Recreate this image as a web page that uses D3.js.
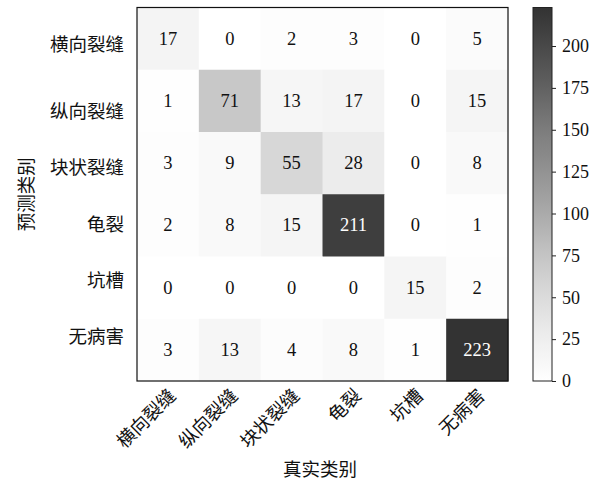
<!DOCTYPE html>
<html>
<head>
<meta charset="utf-8">
<script src="https://cdn.jsdelivr.net/npm/d3@7"></script>
<style>
  html, body { margin: 0; padding: 0; background: #fff; }
  svg { display: block; }
  .cjk { font-family: "Noto Sans CJK SC", sans-serif; }
  .num { font-family: "Liberation Serif", "DejaVu Serif", serif; }
</style>
</head>
<body>
<svg id="chart" width="605" height="480"></svg>
<script>
// Classes (true along x, predicted along y)
const classes = ["横向裂缝", "纵向裂缝", "块状裂缝", "龟裂", "坑槽", "无病害"];
// Confusion matrix rows = predicted class, columns = true class
const row0 = [17, 0, 2, 3, 0, 5];
const row1 = [1, 71, 13, 17, 0, 15];
const row2 = [3, 9, 55, 28, 0, 8];
const row3 = [2, 8, 15, 211, 0, 1];
const row4 = [0, 0, 0, 0, 15, 2];
const row5 = [3, 13, 4, 8, 1, 223];
const matrix = [row0, row1, row2, row3, row4, row5];
const colorbarTicks = [0, 25, 50, 75, 100, 125, 150, 175, 200];
const xTitle = "真实类别";
const yTitle = "预测类别";

const svg = d3.select("#chart");
const plot = { left: 137, top: 7.5, right: 508, bottom: 381 };

const vmax = d3.max(matrix.flat());
// Greys ramp, slightly lifted toward white at the dark end
const color = v => d3.interpolateRgb("#ffffff", d3.interpolateGreys(Math.pow(v / vmax, 0.85)))(0.8);

const x = d3.scaleBand().domain(d3.range(classes.length)).range([plot.left, plot.right]);
const y = d3.scaleBand().domain(d3.range(classes.length)).range([plot.top, plot.bottom]);
// Row labels follow their own spacing (first one sits higher)
const yLab = d3.scaleLinear().domain([0, 1, classes.length - 1]).range([43, 110, 335]);

const cells = [];
matrix.forEach((r, i) => r.forEach((v, j) => cells.push({ i, j, v })));

svg.append("g").selectAll("rect").data(cells).join("rect")
  .attr("x", d => x(d.j))
  .attr("y", d => y(d.i))
  .attr("width", x.bandwidth() + 0.5)
  .attr("height", y.bandwidth() + 0.5)
  .attr("fill", d => color(d.v));

svg.append("g").selectAll("text").data(cells).join("text")
  .attr("class", "num")
  .attr("x", d => x(d.j) + x.bandwidth() / 2)
  .attr("y", d => y(d.i) + y.bandwidth() / 2)
  .attr("text-anchor", "middle")
  .attr("dominant-baseline", "central")
  .attr("font-size", 18.5)
  .attr("fill", d => d.v > vmax / 2 ? "#ffffff" : "#111")
  .text(d => d.v);

// frame
svg.append("rect")
  .attr("x", plot.left).attr("y", plot.top)
  .attr("width", plot.right - plot.left).attr("height", plot.bottom - plot.top)
  .attr("fill", "none").attr("stroke", "#111").attr("stroke-width", 1.2);

// row labels
svg.append("g").selectAll("text").data(classes).join("text")
  .attr("class", "cjk")
  .attr("x", 124)
  .attr("y", (d, i) => yLab(i))
  .attr("text-anchor", "end")
  .attr("dominant-baseline", "central")
  .attr("font-size", 18.5)
  .attr("fill", "#111")
  .text(d => d);

// column labels, rotated
svg.append("g").selectAll("text").data(classes).join("text")
  .attr("class", "cjk")
  .attr("text-anchor", "end")
  .attr("font-size", 18.5)
  .attr("fill", "#111")
  .attr("transform", (d, i) => `translate(${x(i) + x.bandwidth() / 2 + 9},${397}) rotate(-45)`)
  .text(d => d);

svg.append("text").attr("class", "cjk")
  .attr("x", 320).attr("y", 468)
  .attr("text-anchor", "middle").attr("dominant-baseline", "central")
  .attr("font-size", 18.5).attr("fill", "#111")
  .text(xTitle);

svg.append("text").attr("class", "cjk")
  .attr("transform", `translate(25,${(plot.top + plot.bottom) / 2}) rotate(-90)`)
  .attr("text-anchor", "middle").attr("dominant-baseline", "central")
  .attr("font-size", 18.5).attr("fill", "#111")
  .text(yTitle);

// colorbar
const cb = { x: 533, w: 19 };
const cbScale = d3.scaleLinear().domain([0, vmax]).range([plot.bottom, plot.top]);
const defs = svg.append("defs");
const grad = defs.append("linearGradient").attr("id", "cbgrad")
  .attr("x1", 0).attr("y1", 1).attr("x2", 0).attr("y2", 0);
d3.range(0, 1.0001, 0.05).forEach(t => {
  grad.append("stop").attr("offset", t).attr("stop-color", color(t * vmax));
});
svg.append("rect")
  .attr("x", cb.x).attr("y", plot.top)
  .attr("width", cb.w).attr("height", plot.bottom - plot.top)
  .attr("fill", "url(#cbgrad)")
  .attr("stroke", "#222").attr("stroke-width", 1);

const cbAxis = d3.axisRight(cbScale).tickValues(colorbarTicks).tickSize(4).tickPadding(6);
const cbg = svg.append("g").attr("transform", `translate(${cb.x + cb.w},0)`).call(cbAxis);
cbg.select(".domain").remove();
cbg.selectAll("line").attr("stroke", "#222");
cbg.selectAll("text").attr("class", "num").attr("font-size", 18).attr("fill", "#111");
</script>
</body>
</html>
